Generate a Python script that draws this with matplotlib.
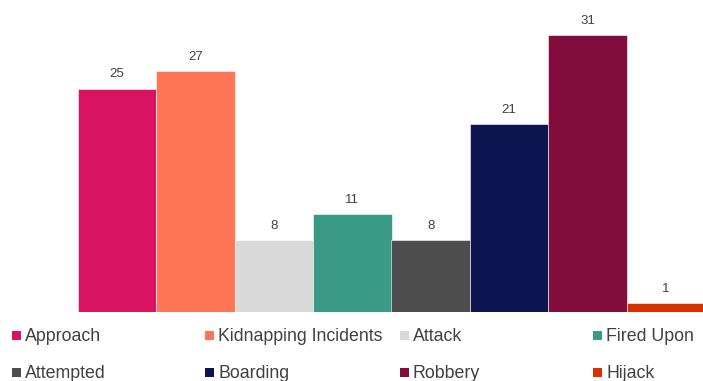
import matplotlib.pyplot as plt
from matplotlib.patches import Rectangle

plt.rcParams["font.family"] = ["Liberation Sans", "DejaVu Sans"]

categories = ["Approach", "Kidnapping Incidents", "Attack", "Fired Upon",
              "Attempted", "Boarding", "Robbery", "Hijack"]
counts = [25, 27, 8, 11, 8, 21, 31, 1]
colors = ["#D81462", "#FF7555", "#D9D9D9", "#3A9A86",
          "#4D4D4D", "#0C154F", "#820C3C", "#D83100"]

W, H = 703, 381
fig = plt.figure(figsize=(W / 100, H / 100), dpi=100)
ax = fig.add_axes([78 / W, 69 / H, 627 / W, 312 / H])

x = range(len(counts))
bars = ax.bar(x, counts, width=1.0, color=colors, edgecolor="white", linewidth=0.4)
for xi, v in zip(x, counts):
    ax.text(xi, v + 0.9, str(v), ha="center", va="bottom", fontsize=9.5, color="#404040")

ax.set_xlim(-0.5, 7.5)
ax.set_ylim(0, 312 / 8.94)
ax.axis("off")

# legend laid out by hand in two rows of four
col_x = [12, 205, 400, 593]
row_y = [335, 372]
for i, (name, c) in enumerate(zip(categories, colors)):
    px = col_x[i % 4]
    py = row_y[i // 4]
    fig.patches.append(Rectangle((px / W, 1 - (py + 4.5) / H), 9 / W, 9 / H,
                                 transform=fig.transFigure, facecolor=c,
                                 edgecolor="none"))
    fig.text((px + 13) / W, 1 - (py + 1.5) / H, name, ha="left", va="center",
             fontsize=12.8, color="#404040")

fig.savefig("out.png", dpi=100)
